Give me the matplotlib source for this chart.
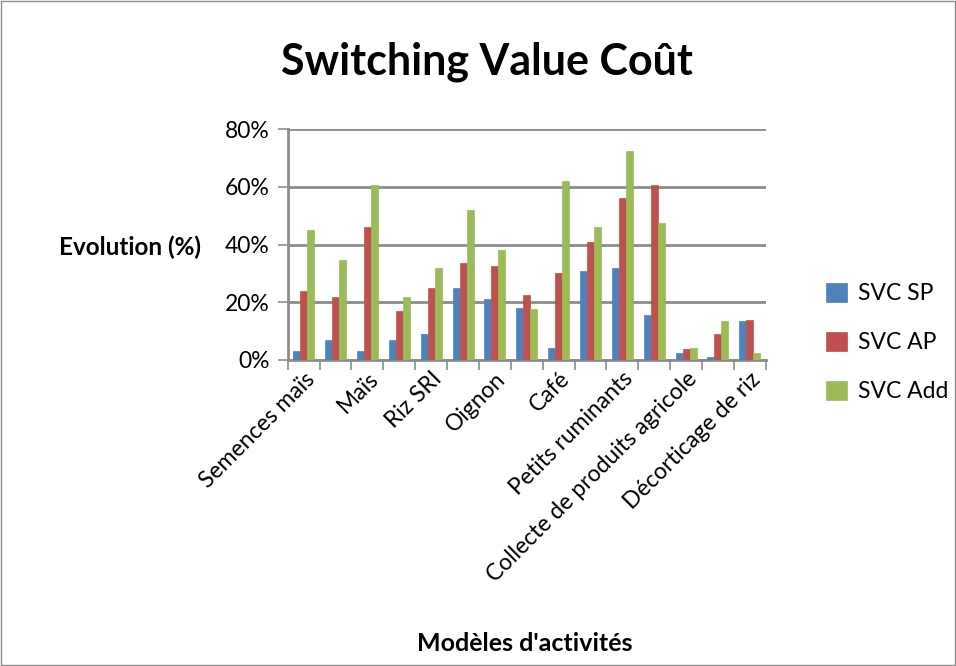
import matplotlib.pyplot as plt
import numpy as np
from matplotlib.ticker import PercentFormatter
from matplotlib.patches import Rectangle

plt.rcParams['font.family'] = ['Lato', 'DejaVu Sans']

# 15 activités, seules une sur deux sont étiquetées sur l'axe
categories = ["Semences maïs", "", "Maïs", "", "Riz SRI", "", "Oignon", "",
              "Café", "", "Petits ruminants", "", "Collecte de produits agricole", "",
              "Décorticage de riz"]
svc_sp = [3, 7, 3, 7, 9, 25, 21, 18, 4, 31, 32, 15.5, 2.5, 1, 13.5]
svc_ap = [24, 22, 46, 17, 25, 33.5, 32.5, 22.5, 30, 41, 56, 60.5, 3.8, 9, 14]
svc_add = [45, 34.5, 60.5, 22, 32, 52, 38, 17.5, 62, 46, 72.5, 47.5, 4, 13.5, 2.5]
series_names = ["SVC SP", "SVC AP", "SVC Add"]
colors = ["#4F81BD", "#C0504D", "#9BBB59"]

fig = plt.figure(figsize=(9.56, 6.66), dpi=100)
ax = fig.add_axes([0.301, 0.4595, 0.5, 0.3465])

x = np.arange(len(categories))
w = 0.22
for i, (vals, name, c) in enumerate(zip([svc_sp, svc_ap, svc_add], series_names, colors)):
    ax.bar(x + (i - 1) * w, vals, width=w, color=c, edgecolor=c, linewidth=0.5,
           label=name, zorder=3)

ax.set_xlim(-0.5, len(categories) - 0.5)
ax.set_ylim(0, 80)
ax.set_yticks([0, 20, 40, 60, 80])
ax.yaxis.set_major_formatter(PercentFormatter(decimals=0))
ax.grid(axis='y', color='#8c8c8c', linewidth=2, zorder=0)

# graduations entre les catégories, étiquettes une sur deux
ax.set_xticks(np.arange(-0.5, len(categories)), minor=False)
ax.set_xticklabels([])
ax.set_xticks(x[::2], minor=True)
ax.set_xticklabels(categories[::2], minor=True, rotation=45, ha='right',
                   rotation_mode='anchor', fontsize=16.5)
ax.tick_params(axis='x', which='minor', length=0, pad=6)
ax.tick_params(axis='x', which='major', length=7, color='#8c8c8c', width=1.2)
ax.tick_params(axis='y', length=7, color='#8c8c8c', width=1.2, labelsize=16.5, pad=6)

for s in ['top', 'right']:
    ax.spines[s].set_visible(False)
for s in ['left', 'bottom']:
    ax.spines[s].set_color('#8c8c8c')
    ax.spines[s].set_linewidth(2)

fig.text(0.509, 0.908, "Switching Value Coût", ha='center', va='center',
         fontsize=31, fontweight='bold')
fig.text(0.136, 0.629, "Evolution (%)", ha='center', va='center',
         fontsize=17.5, fontweight='bold')
fig.text(0.549, 0.034, "Modèles d'activités", ha='center', va='center',
         fontsize=18, fontweight='bold')

fig.legend(loc='center left', bbox_to_anchor=(0.864, 0.486), frameon=False,
           fontsize=16.5, handlelength=0.9, handleheight=0.9, labelspacing=1.2,
           handletextpad=0.5, borderpad=0, borderaxespad=0)

fig.patches.append(Rectangle((0.001, 0.001), 0.998, 0.998, transform=fig.transFigure,
                             fill=False, edgecolor='#8c8c8c', linewidth=1))

fig.savefig("out.png", dpi=100)
